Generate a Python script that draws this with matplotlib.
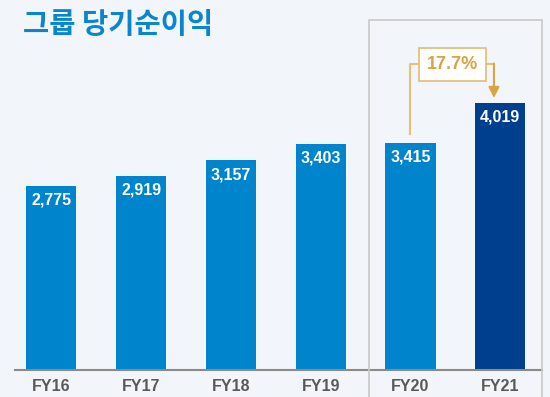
import matplotlib.pyplot as plt
from matplotlib.patches import Rectangle

# data
years = ['FY16', 'FY17', 'FY18', 'FY19', 'FY20', 'FY21']
profit = [2775, 2919, 3157, 3403, 3415, 4019]
growth_label = '17.7%'

bg = '#F2F5FA'
blue = '#0085CC'
navy = '#003F8E'
gold = '#D9A542'
gold_light = '#E6C07A'

plt.rcParams['font.family'] = ['Liberation Sans', 'Noto Sans CJK KR', 'DejaVu Sans']

fig = plt.figure(figsize=(5.5, 3.97), dpi=100)
fig.patch.set_facecolor(bg)
ax = fig.add_axes([15 / 550, (397 - 370.3) / 397, 527 / 550, (370.3 - 37.8) / 397])
ax.set_facecolor(bg)

x = list(range(len(years)))
colors = [blue] * 5 + [navy]
ax.bar(x, profit, width=0.56, color=colors, zorder=2)

for i, v in zip(x, profit):
    ax.text(i, v - 215, f'{v:,}', ha='center', va='center', color='white',
            fontsize=11.5, fontweight='bold', zorder=3)

ax.set_xlim(-0.404, 5.465)
ax.set_ylim(0, 5000)
ax.set_xticks(x)
ax.set_xticklabels(years, fontsize=11.5, fontweight='bold', color='#595959')
ax.tick_params(axis='x', length=0, pad=6)
ax.set_yticks([])
for s in ['top', 'right', 'left']:
    ax.spines[s].set_visible(False)
ax.spines['bottom'].set_color('#8a8a8a')
ax.spines['bottom'].set_linewidth(1.5)

# highlight box around FY20-FY21
fig.add_artist(Rectangle((369.3 / 550, -0.01), (541.5 - 369.3) / 550, (397 - 20) / 397 + 0.01,
                         transform=fig.transFigure, fill=False, ec='#C8C8C8', lw=1.2))

# growth annotation
yb = 4602
ax.plot([4.0, 4.0, 4.08], [profit[4] + 140, yb, yb], color=gold_light, lw=1.5, zorder=3)
ax.plot([4.852, 4.93], [yb, yb], color=gold_light, lw=1.5, zorder=3)
ax.annotate('', xy=(4.93, profit[5] + 75), xytext=(4.93, yb + 10),
            arrowprops=dict(arrowstyle='-|>', color=gold, lw=1.5, mutation_scale=16,
                            shrinkA=0, shrinkB=0), zorder=3)
ax.text(4.466, yb, growth_label, ha='center', va='center', color=gold,
        fontsize=13, fontweight='bold', zorder=4,
        bbox=dict(boxstyle='square,pad=0.45', fc='white', ec=gold_light, lw=1.3))

fig.text(23 / 550, 1 - 25 / 397, '그룹 당기순이익', ha='left', va='center',
         fontsize=20.5, fontweight='bold', color='#0A86CC',
         family=['Noto Sans CJK KR', 'DejaVu Sans'])

fig.savefig('out.png', dpi=100, facecolor=bg)
